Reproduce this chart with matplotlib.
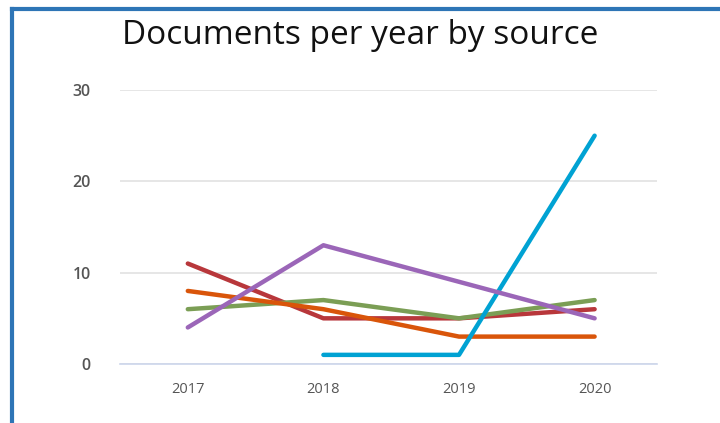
import matplotlib.pyplot as plt
from matplotlib.lines import Line2D

plt.rcParams['font.family'] = ['Open Sans', 'DejaVu Sans']

# --------------- data ---------------
years = [2017, 2018, 2019, 2020]
red_docs = [11, 5, 5, 6]
green_docs = [6, 7, 5, 7]
orange_docs = [8, 6, 3, 3]
blue_years = [2018, 2019, 2020]
blue_docs = [1, 1, 25]
purple_docs = [4, 13, 9, 5]
yticks = [0, 10, 20, 30]

fig = plt.figure(figsize=(7.2, 4.23), dpi=100)
ax = fig.add_axes([120 / 720, 1 - 364 / 423, 537 / 720, 274 / 423])

lw = 3.2
ax.plot(years, red_docs, color='#b8373b', lw=lw, solid_capstyle='round', zorder=3)
ax.plot(years, green_docs, color='#7b9e55', lw=lw, solid_capstyle='round', zorder=4)
ax.plot(years, orange_docs, color='#d9550a', lw=lw, solid_capstyle='round', zorder=5)
ax.plot(blue_years, blue_docs, color='#00a2d3', lw=lw, solid_capstyle='round', zorder=6)
ax.plot(years, purple_docs, color='#9b66b8', lw=lw, solid_capstyle='round', zorder=7)

ax.set_xlim(2016.5, 2020.46)
ax.set_ylim(0, 30)
ax.set_xticks(years)
ax.set_yticks(yticks)
ax.tick_params(length=0)
ax.tick_params(axis='y', pad=21, labelsize=11.5, labelcolor='#555555')
ax.tick_params(axis='x', pad=13, labelsize=10.5, labelcolor='#555555')
for lab in ax.get_yticklabels():
    lab.set_fontweight('semibold')

ax.grid(axis='y', color='#e2e2e2', lw=1.2)
ax.set_axisbelow(True)
for s in ['top', 'right', 'left']:
    ax.spines[s].set_visible(False)
ax.spines['bottom'].set_color('#ccd6eb')
ax.spines['bottom'].set_linewidth(1.2)

fig.text(122 / 720, 1 - 36 / 423, 'Documents per year by source', fontsize=24,
         color='#111111', ha='left', va='center')

# frame on the left and top edges
fig.add_artist(Line2D([12 / 720, 12 / 720], [0, 1 - 9 / 423], color='#2e75b6', lw=3,
                      transform=fig.transFigure))
fig.add_artist(Line2D([12 / 720, 1], [1 - 9 / 423, 1 - 9 / 423], color='#2e75b6', lw=3,
                      transform=fig.transFigure))

fig.savefig('out.png', dpi=100)
